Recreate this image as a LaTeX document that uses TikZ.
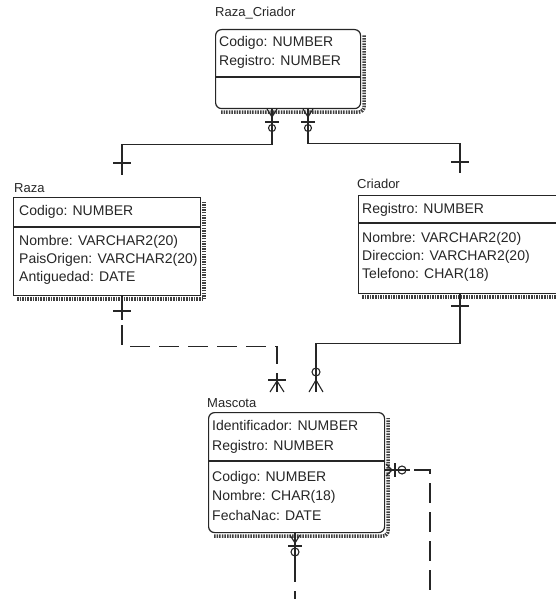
\documentclass[tikz,border=0pt]{standalone}
\usepackage{fontspec}
\setmainfont{Liberation Sans}
\usepackage{tikz}
\usetikzlibrary{positioning,backgrounds,calc}
\definecolor{inkgray}{HTML}{262626}

\tikzset{
  entity/.style={draw=inkgray,line width=1.2pt,fill=white,anchor=north west,inner sep=0pt},
  weakentity/.style={entity,rounded corners=6pt},
  attr/.style={anchor=base west,inner sep=0pt,text=inkgray,font=\fontsize{14}{19}\selectfont},
  etitle/.style={attr,font=\fontsize{13}{16}\selectfont},
  rel/.style={draw=inkgray,line width=1.1pt},
  nonident/.style={rel,dash pattern=on 20pt off 9pt},
  boxshade/.style={line width=3.5pt,black!75,dash pattern=on 1.5pt off 1.1pt},
}

\begin{document}
\begin{tikzpicture}[x=1pt,y=-1pt]
    \useasboundingbox (0,0) rectangle (556,599);
    % entity boxes
    \node[weakentity,minimum width=145pt,minimum height=79pt] (razacriador) at (215,29) {};
    \node[entity,minimum width=187pt,minimum height=98pt] (raza) at (13,197) {};
    \node[entity,minimum width=200pt,minimum height=98pt] (criador) at (358,195) {};
    \node[weakentity,minimum width=176pt,minimum height=120pt] (mascota) at (208,412) {};
    % shadows
    \begin{scope}[on background layer]
      \foreach \n in {raza,criador}
        \draw[boxshade] ([xshift=4pt,yshift=-3pt]\n.south west) -- ([xshift=3pt,yshift=-3pt]\n.south east) -- ([xshift=3pt,yshift=-4pt]\n.north east);
      \foreach \n in {razacriador,mascota}
        \draw[boxshade,rounded corners=6pt] ([xshift=6pt,yshift=-3pt]\n.south west) -- ([xshift=3pt,yshift=-3pt]\n.south east) -- ([xshift=3pt,yshift=-6pt]\n.north east);
    \end{scope}
    % key / non-key dividers
    \foreach \n/\d in {razacriador/48,raza/30,criador/28,mascota/49}
      \draw[entity] ([yshift=-\d pt]\n.north west) -- ([yshift=-\d pt]\n.north east);
    % titles
    \node[etitle] (razacriador-t) at (215,17) {Raza\_Criador};
    \node[etitle] (raza-t) at (14,192) {Raza};
    \node[etitle] (criador-t) at (357,188) {Criador};
    \node[etitle] (mascota-t) at (207,407) {Mascota};
    % attributes
    \foreach \txt/\y [count=\i] in {Codigo: NUMBER/47,Registro: NUMBER/66}
      \node[attr] (razacriador-\i) at (219,\y) {\txt};
    \foreach \txt/\y [count=\i] in {Codigo: NUMBER/215,Nombre: VARCHAR2(20)/245,PaisOrigen: VARCHAR2(20)/263,Antiguedad: DATE/281}
      \node[attr] (raza-\i) at (19,\y) {\txt};
    \foreach \txt/\y [count=\i] in {Registro: NUMBER/213,Nombre: VARCHAR2(20)/242,Direccion: VARCHAR2(20)/260,Telefono: CHAR(18)/278}
      \node[attr] (criador-\i) at (362,\y) {\txt};
    \foreach \txt/\y [count=\i] in {Identificador: NUMBER/430,Registro: NUMBER/450,Codigo: NUMBER/481,Nombre: CHAR(18)/500,FechaNac: DATE/520}
      \node[attr] (mascota-\i) at (212,\y) {\txt};
    % relationships
    \draw[rel] ([xshift=57pt]razacriador.south west) -- ++(0,35) -| ([xshift=109pt,yshift=22pt]raza.north west);
    \draw[rel] ([xshift=93pt]razacriador.south west) -- ++(0,34) -| ([xshift=102pt,yshift=22pt]criador.north west);
    \draw[nonident] ([xshift=109pt]raza.south west) -- ++(0,50) -| ([xshift=69pt,yshift=20pt]mascota.north west);
    \draw[rel] ([xshift=102pt]criador.south west) -- ++(0,49) -| ([xshift=108pt,yshift=20pt]mascota.north west);
    % recursive links leaving the sheet
    \coordinate (selfa) at (430,599);
    \coordinate (selfb) at (295,599);
    \draw[nonident] ([yshift=-58pt]mascota.north east) -| (selfa);
    \draw[nonident] ([xshift=87pt]mascota.south west) -- (selfb);
    % cardinality marks
    \foreach \x/\y in {122/163,460/162,122/311,460/306}
      \draw[rel] (\x-9,\y) -- (\x+9,\y);
    \draw[rel] (122,295) -- (122,320);
    \foreach \x in {272,308} {
      \draw[rel] (\x-5,109) -- (\x,117) -- (\x+5,109);
      \draw[rel] (\x-7,122) -- (\x+7,122);
      \draw[rel] (\x,128) circle[radius=3.5pt];
    }
    \draw[rel] (268,380) -- (286,380);
    \draw[rel] (270,392) -- (277,381) -- (284,392);
    \draw[rel] (316,372) circle[radius=4pt];
    \draw[rel] (309,392) -- (316,380) -- (323,392);
    \draw[rel] (384,470) -- (410,470);
    \draw[rel] (386,464) -- (392,470) -- (386,476);
    \draw[rel] (395,463) -- (395,477);
    \draw[rel] (402,470) circle[radius=4pt];
    \draw[rel] (295,532) -- (295,565);
    \draw[rel] (290,535) -- (295,543) -- (300,535);
    \draw[rel] (288,546) -- (302,546);
    \draw[rel] (295,552) circle[radius=4pt];
\end{tikzpicture}
\end{document}
